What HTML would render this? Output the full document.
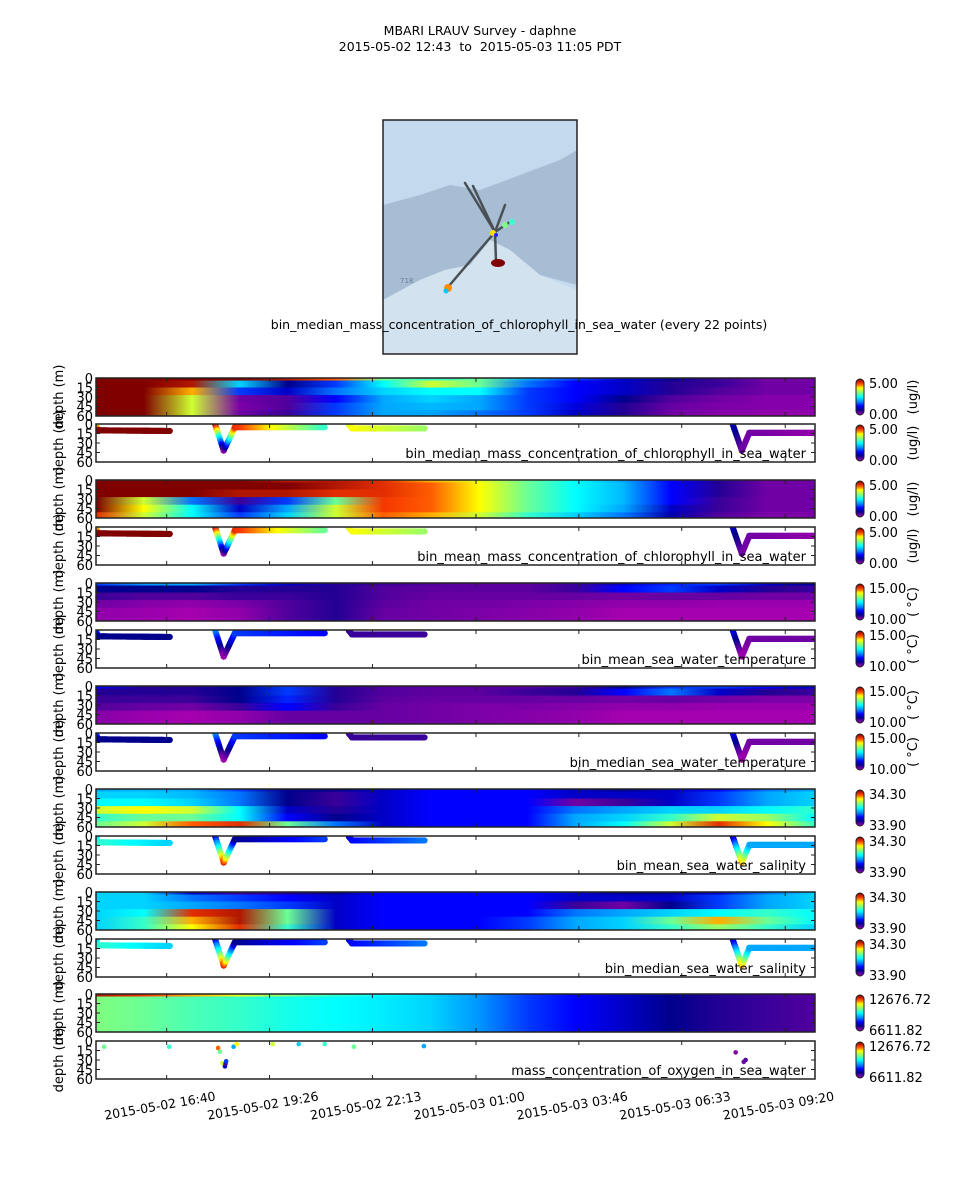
<!DOCTYPE html>
<html><head><meta charset="utf-8"><style>
html,body{margin:0;padding:0;background:#fff;}
svg{display:block;font-family:"DejaVu Sans","Liberation Sans",sans-serif;}
</style></head><body>
<svg id="fig" width="960" height="1200" viewBox="0 0 960 1200" xmlns="http://www.w3.org/2000/svg">
<defs id="defs"></defs>
<text x="480" y="35" text-anchor="middle" font-size="12.5">MBARI LRAUV Survey - daphne</text>
<text x="480" y="51" text-anchor="middle" font-size="12.5" xml:space="preserve">2015-05-02 12:43&#160; to&#160; 2015-05-03 11:05 PDT</text>
<g>
  <rect x="383" y="120" width="194" height="234" fill="#c3daee"/>
  <path d="M383,205 L420,195 L450,185 L480,190 L520,175 L560,160 L577,150 L577,285 L540,275 L510,250 L490,240 L470,265 L445,270 L420,280 L383,300 Z" fill="#a6bdd3"/>
  <path d="M383,300 L420,280 L445,270 L470,265 L490,240 L510,250 L540,275 L577,290 L577,354 L383,354 Z" fill="#d3e2ef"/>
  <g stroke="#4a4f55" stroke-width="2.5" stroke-linecap="round">
    <line x1="465" y1="183" x2="495" y2="232"/>
    <line x1="473" y1="186" x2="495" y2="232"/>
    <line x1="505" y1="205" x2="495" y2="232"/>
    <line x1="495" y1="232" x2="448" y2="287"/>
    <line x1="495" y1="232" x2="496" y2="262"/>
    <line x1="495" y1="232" x2="510" y2="222"/>
  </g>
  <ellipse cx="498" cy="263" rx="7" ry="4" fill="#800000"/>
  <circle cx="448" cy="288" r="4" fill="#ff8c00"/>
  <circle cx="446" cy="291" r="2.5" fill="#00c8ff"/>
  <circle cx="505" cy="225" r="3" fill="#80ff80"/>
  <circle cx="512" cy="222" r="3" fill="#40ffd0"/>
  <circle cx="493" cy="233" r="3" fill="#ffdd00"/>
  <circle cx="496" cy="235" r="2" fill="#2020ff"/>
  <text x="400" y="283" font-size="7" fill="#6b7f90">718</text>
  <rect x="383" y="120" width="194" height="234" fill="none" stroke="#222" stroke-width="1.5"/>
  <text x="519" y="329" text-anchor="middle" font-size="12.5">bin_median_mass_concentration_of_chlorophyll_in_sea_water (every 22 points)</text>
</g>
<g id="panels"></g>
</svg>
<script>
// ---- axis data ----
const xTickLabels = ["2015-05-02 16:40","2015-05-02 19:26","2015-05-02 22:13","2015-05-03 01:00","2015-05-03 03:46","2015-05-03 06:33","2015-05-03 09:20"];
const xTickTimes = [114,280,446,613,779,945,1112]; // minutes since axis start
const yTicks = [0,15,30,45,60];
const hmTimes = [0,77,155,232,309,387,464,541,619,696,773,851,928,1005,1083,1160];
const hmDepthEdges = [0,4,15,27,39,51,62];

// ---- heatmap values (normalized 0..1 within each colour range), rows = depth bins ----
const chlMedianGrid = [
 [1,1,1,1,0.95,0.85,0.6,0.55,0.6,0.4,0.3,0.2,0.15,0.1,0.05,0.05],
 [1,1,0.95,0.45,0.15,0.3,0.5,0.7,0.6,0.35,0.25,0.2,0.12,0.1,0.05,0.05],
 [1,1,0.8,0.3,0.2,0.35,0.45,0.5,0.5,0.3,0.25,0.2,0.12,0.08,0.05,0.05],
 [1,1,0.7,0.05,0.08,0.25,0.4,0.45,0.4,0.3,0.25,0.15,0.08,0.05,0.03,0.03],
 [1,1,0.7,0.04,0.08,0.3,0.4,0.42,0.4,0.3,0.22,0.12,0.06,0.04,0.03,0.03],
 [1,1,0.7,0.05,0.1,0.3,0.4,0.4,0.35,0.3,0.2,0.12,0.05,0.03,0.02,0.02]];
const chlMeanGrid = [
 [1,1,1,1,0.95,0.95,0.9,0.8,0.72,0.6,0.5,0.4,0.25,0.12,0.05,0.05],
 [1,1,1,1,1,0.95,0.9,0.85,0.75,0.6,0.5,0.42,0.25,0.12,0.05,0.05],
 [1,1,1,0.95,0.95,0.9,0.9,0.85,0.75,0.6,0.5,0.42,0.25,0.12,0.05,0.05],
 [1,0.7,0.35,0.1,0.3,0.6,0.88,0.85,0.75,0.6,0.5,0.42,0.25,0.1,0.05,0.05],
 [1,0.75,0.5,0.2,0.4,0.7,0.88,0.85,0.75,0.6,0.5,0.4,0.2,0.1,0.05,0.05],
 [0.9,0.7,0.5,0.3,0.45,0.7,0.85,0.8,0.7,0.55,0.45,0.35,0.18,0.08,0.04,0.04]];
const tempMeanGrid = [
 [0.3,0.38,0.4,0.3,0.2,0.12,0.1,0.08,0.07,0.07,0.1,0.2,0.28,0.3,0.2,0.15],
 [0.15,0.15,0.15,0.12,0.12,0.12,0.08,0.07,0.07,0.07,0.1,0.25,0.3,0.2,0.12,0.1],
 [0.1,0.08,0.08,0.1,0.1,0.12,0.08,0.06,0.06,0.06,0.06,0.05,0.06,0.06,0.05,0.05],
 [0.05,0.03,0.02,0.04,0.08,0.12,0.07,0.05,0.05,0.04,0.03,0.02,0.02,0.01,0.01,0.01],
 [0.02,0.01,0,0.02,0.08,0.12,0.06,0.05,0.04,0.03,0.02,0,0,0,0,0],
 [0.02,0.01,0,0.02,0.08,0.12,0.06,0.05,0.04,0.03,0.02,0,0,0,0,0]];
const tempMedianGrid = [
 [0.25,0.12,0.12,0.15,0.3,0.12,0.08,0.07,0.07,0.07,0.1,0.15,0.3,0.3,0.25,0.2],
 [0.12,0.12,0.12,0.15,0.3,0.12,0.08,0.07,0.07,0.1,0.12,0.25,0.35,0.2,0.12,0.1],
 [0.1,0.1,0.1,0.15,0.28,0.12,0.07,0.06,0.06,0.06,0.06,0.05,0.06,0.05,0.04,0.04],
 [0.08,0.06,0.05,0.1,0.25,0.1,0.06,0.05,0.04,0.04,0.03,0.02,0.02,0.01,0.01,0.01],
 [0.03,0.01,0,0.02,0.06,0.06,0.06,0.05,0.04,0.03,0.02,0,0,0,0,0],
 [0.03,0.01,0,0.02,0.06,0.06,0.06,0.05,0.04,0.03,0.02,0,0,0,0,0]];
const salMeanGrid = [
 [0.4,0.42,0.4,0.3,0.15,0.15,0.2,0.25,0.25,0.25,0.2,0.15,0.2,0.25,0.35,0.4],
 [0.45,0.45,0.42,0.35,0.15,0.1,0.2,0.25,0.25,0.25,0.2,0.2,0.2,0.3,0.4,0.45],
 [0.5,0.5,0.45,0.35,0.15,0.1,0.2,0.25,0.25,0.25,0.05,0.1,0.2,0.3,0.4,0.45],
 [0.7,0.75,0.7,0.5,0.2,0.12,0.2,0.25,0.25,0.25,0.35,0.4,0.45,0.45,0.5,0.55],
 [0.55,0.6,0.6,0.5,0.25,0.15,0.2,0.25,0.25,0.25,0.4,0.45,0.55,0.7,0.65,0.5],
 [0.6,0.7,0.85,0.9,0.6,0.35,0.2,0.25,0.25,0.25,0.4,0.5,0.7,0.9,0.75,0.55]];
const salMedianGrid = [
 [0.45,0.45,0.2,0.1,0.12,0.15,0.25,0.25,0.25,0.25,0.2,0.15,0.15,0.2,0.35,0.45],
 [0.45,0.45,0.35,0.3,0.25,0.2,0.25,0.25,0.25,0.25,0.2,0.2,0.2,0.3,0.4,0.45],
 [0.45,0.45,0.4,0.35,0.3,0.2,0.25,0.25,0.25,0.25,0.1,0.05,0.15,0.3,0.4,0.45],
 [0.45,0.5,0.9,0.95,0.6,0.2,0.25,0.25,0.25,0.25,0.35,0.4,0.45,0.5,0.55,0.5],
 [0.45,0.55,0.8,0.95,0.6,0.2,0.25,0.25,0.25,0.3,0.4,0.45,0.6,0.8,0.6,0.5],
 [0.45,0.55,0.75,0.9,0.55,0.2,0.25,0.25,0.25,0.3,0.4,0.45,0.55,0.65,0.55,0.45]];
const oxyGrid = [
 [0.95,0.88,0.8,0.72,0.62,0.55,0.5,0.45,0.38,0.3,0.25,0.2,0.15,0.12,0.1,0.08],
 [0.62,0.6,0.57,0.55,0.52,0.5,0.48,0.45,0.38,0.3,0.25,0.2,0.15,0.12,0.1,0.08],
 [0.62,0.6,0.57,0.55,0.52,0.5,0.48,0.45,0.38,0.3,0.25,0.2,0.15,0.12,0.1,0.08],
 [0.62,0.6,0.57,0.55,0.52,0.5,0.48,0.45,0.38,0.3,0.25,0.2,0.15,0.12,0.1,0.08],
 [0.62,0.6,0.57,0.55,0.52,0.5,0.48,0.45,0.38,0.3,0.25,0.2,0.15,0.12,0.1,0.08],
 [0.62,0.6,0.57,0.55,0.52,0.5,0.48,0.45,0.38,0.3,0.25,0.2,0.15,0.12,0.1,0.08]];

// ---- vehicle track (time min, depth m) per segment ----
const trackTimes = [[0,3,119],[192,206,224,369],[408,413,530],[1027,1042,1054,1160]];
const trackDepths = [[0,10,11],[0,42,5,5],[1,7,7],[0,42,14,14]];
// ---- track colour values (normalized) per segment ----
const chlMedianTrack = [[0.5,1,1],[1,0.02,0.9,0.55],[0.7,0.75,0.65],[0.2,0.05,0.05,0.02]];
const chlMeanTrack = [[0.5,1,1],[1,0.02,0.9,0.6],[0.7,0.75,0.65],[0.2,0.05,0.05,0.02]];
const tempMeanTrack = [[0.4,0.15,0.15],[0.4,0,0.3,0.25],[0.1,0.1,0.1],[0.25,0,0.05,0.05]];
const tempMedianTrack = [[0.4,0.15,0.15],[0.4,0,0.3,0.25],[0.1,0.1,0.1],[0.25,0,0.05,0.05]];
const salMeanTrack = [[0.4,0.55,0.45],[0.2,0.9,0.15,0.3],[0.2,0.25,0.35],[0.15,0.8,0.4,0.4]];
const salMedianTrack = [[0.4,0.55,0.45],[0.2,0.9,0.15,0.3],[0.2,0.25,0.35],[0.15,0.8,0.4,0.4]];
// ---- oxygen sparse samples ----
const oxyTimes = [13,118,197,200,222,227,204,208,209,210,285,327,369,416,529,1032,1045,1048];
const oxyDepths = [9,9,11,17,9,5,35,40,36,32,5,5,5,9,8,18,33,30];
const oxyValues = [0.6,0.55,0.85,0.6,0.4,0.75,0.7,0.2,0.1,0.3,0.7,0.45,0.55,0.6,0.4,0.03,0.05,0.08];

const panelTops = [378,424,480,527,583,630,686,733,789,836,892,939,994,1041];
const PX0=96, PX1=815, PH=38, TMAX=1160;
const xs = t => PX0 + (t/TMAX)*(PX1-PX0);
const ys = (top,d) => top + (d/60)*PH;

const cmStops=[[0,[165,0,175]],[0.09,[70,0,155]],[0.15,[0,0,140]],[0.25,[0,0,255]],[0.37,[0,140,255]],[0.5,[0,255,255]],[0.62,[128,255,128]],[0.75,[255,255,0]],[0.87,[255,60,0]],[1,[128,0,0]]];
function cmap(v){v=Math.max(0,Math.min(1,v));for(let i=1;i<cmStops.length;i++){if(v<=cmStops[i][0]){const a=cmStops[i-1],b=cmStops[i];const f=(v-a[0])/(b[0]-a[0]);const c=a[1].map((x,k)=>Math.round(x+(b[1][k]-x)*f));return `rgb(${c[0]},${c[1]},${c[2]})`;}}return 'rgb(128,0,0)';}

const NS="http://www.w3.org/2000/svg";
const defs=document.getElementById('defs'), root=document.getElementById('panels');
function mk(tag,attrs,parent){const e=document.createElementNS(NS,tag);for(const k in attrs)e.setAttribute(k,attrs[k]);(parent||root).appendChild(e);return e;}
let gid=0;

const cbg=mk('linearGradient',{id:'cbgrad',x1:0,y1:1,x2:0,y2:0},defs);
for(let i=0;i<=20;i++){mk('stop',{offset:i/20,'stop-color':cmap(i/20)},cbg);}

const panels=[
 {kind:'hm',grid:chlMedianGrid,lo:'0.00',hi:'5.00',unit:'(ug/l)'},
 {kind:'sc',track:chlMedianTrack,lo:'0.00',hi:'5.00',unit:'(ug/l)',title:'bin_median_mass_concentration_of_chlorophyll_in_sea_water'},
 {kind:'hm',grid:chlMeanGrid,lo:'0.00',hi:'5.00',unit:'(ug/l)'},
 {kind:'sc',track:chlMeanTrack,lo:'0.00',hi:'5.00',unit:'(ug/l)',title:'bin_mean_mass_concentration_of_chlorophyll_in_sea_water'},
 {kind:'hm',grid:tempMeanGrid,lo:'10.00',hi:'15.00',unit:'( °C)'},
 {kind:'sc',track:tempMeanTrack,lo:'10.00',hi:'15.00',unit:'( °C)',title:'bin_mean_sea_water_temperature'},
 {kind:'hm',grid:tempMedianGrid,lo:'10.00',hi:'15.00',unit:'( °C)'},
 {kind:'sc',track:tempMedianTrack,lo:'10.00',hi:'15.00',unit:'( °C)',title:'bin_median_sea_water_temperature'},
 {kind:'hm',grid:salMeanGrid,lo:'33.90',hi:'34.30',unit:''},
 {kind:'sc',track:salMeanTrack,lo:'33.90',hi:'34.30',unit:'',title:'bin_mean_sea_water_salinity'},
 {kind:'hm',grid:salMedianGrid,lo:'33.90',hi:'34.30',unit:''},
 {kind:'sc',track:salMedianTrack,lo:'33.90',hi:'34.30',unit:'',title:'bin_median_sea_water_salinity'},
 {kind:'hm',grid:oxyGrid,lo:'6611.82',hi:'12676.72',unit:''},
 {kind:'ox',lo:'6611.82',hi:'12676.72',unit:'',title:'mass_concentration_of_oxygen_in_sea_water'}];

panels.forEach((p,pi)=>{
  const top=panelTops[pi];
  const g=mk('g',{});
  
  
  const clip=mk('clipPath',{id:'clip'+pi},defs);
  mk('rect',{x:PX0,y:top,width:PX1-PX0,height:PH},clip);
  const body=mk('g',{'clip-path':`url(#clip${pi})`},g);
  if(p.kind==='hm'){
    p.grid.forEach((row,ri)=>{
      const id='hg'+(gid++);
      const lg=mk('linearGradient',{id:id,gradientUnits:'userSpaceOnUse',x1:PX0,y1:0,x2:PX1,y2:0},defs);
      row.forEach((v,ci)=>{mk('stop',{offset:hmTimes[ci]/TMAX,'stop-color':cmap(v)},lg);});
      const y0=ys(top,hmDepthEdges[ri]), y1=ys(top,hmDepthEdges[ri+1]);
      const r=mk('rect',{x:PX0,y:y0,width:PX1-PX0,height:y1-y0+0.5,fill:`url(#${id})`},body);
      
      
    });
  } else if(p.kind==='sc'){
    trackTimes.forEach((seg,si)=>{
      for(let k=0;k<seg.length-1;k++){
        const n=Math.max(2,Math.round((seg[k+1]-seg[k])/1.2));
        for(let j=0;j<=n;j++){
          const f=j/n;
          const t=seg[k]+(seg[k+1]-seg[k])*f;
          const d=trackDepths[si][k]+(trackDepths[si][k+1]-trackDepths[si][k])*f;
          const v=p.track[si][k]+(p.track[si][k+1]-p.track[si][k])*f;
          const c=mk('circle',{cx:xs(t),cy:ys(top,d),r:3.1,fill:cmap(v)},body);
          
          
        }
      }
    });
  } else {
    oxyTimes.forEach((t,i)=>{
      const c=mk('circle',{cx:xs(t),cy:ys(top,oxyDepths[i]),r:2.3,fill:cmap(oxyValues[i])},body);
      
      
    });
  }
  mk('rect',{x:PX0,y:top,width:PX1-PX0,height:PH,fill:'none',stroke:'#222','stroke-width':1.5},g);
  yTicks.forEach(d=>{
    const y=ys(top,d);
    mk('line',{x1:PX0,y1:y,x2:PX0+4,y2:y,stroke:'#222'},g);
    mk('line',{x1:PX1-4,y1:y,x2:PX1,y2:y,stroke:'#222'},g);
    const tl=mk('text',{x:PX0-3,y:y+5,'text-anchor':'end','font-size':13},g);
    tl.textContent=d;
    
    
  });
  xTickTimes.forEach(t=>{
    mk('line',{x1:xs(t),y1:top+PH,x2:xs(t),y2:top+PH-4,stroke:'#222'},g);
    mk('line',{x1:xs(t),y1:top,x2:xs(t),y2:top+4,stroke:'#222'},g);
  });
  const yl=mk('text',{x:0,y:0,transform:`translate(63,${top+PH/2}) rotate(-90)`,'text-anchor':'middle','font-size':13},g);
  yl.textContent='depth (m)';
  
  
  if(p.title){
    const tt=mk('text',{x:806,y:top+PH-4,'text-anchor':'end','font-size':13},g);
    tt.textContent=p.title;
    
    
  }
  const cb=mk('rect',{x:856,y:top+1,width:8,height:PH-2,rx:4,ry:4,fill:'url(#cbgrad)',stroke:'#222','stroke-width':1},g);
  
  
  const hi=mk('text',{x:869,y:top+10,'font-size':13},g); hi.textContent=p.hi;
  
  
  const lo=mk('text',{x:869,y:top+PH+3,'font-size':13},g); lo.textContent=p.lo;
  
  
  if(p.unit){
    const u=mk('text',{x:0,y:0,transform:`translate(917,${top+PH/2}) rotate(-90)`,'text-anchor':'middle','font-size':13},g);
    u.textContent=p.unit;
    
    
  }
});
xTickTimes.forEach((t,i)=>{
  const tx=mk('text',{x:0,y:0,transform:`translate(${xs(t)-6},1110) rotate(-10)`,'text-anchor':'middle','font-size':12.5});
  tx.textContent=xTickLabels[i];
  
  
});
</script>
</body></html>
